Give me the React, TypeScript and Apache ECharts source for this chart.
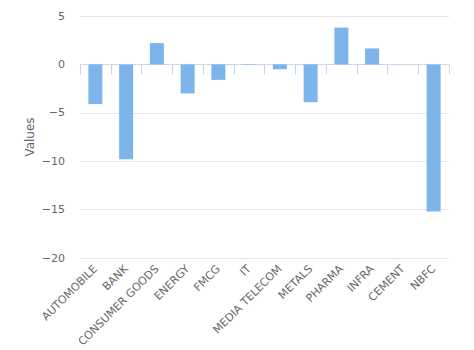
import React, { useEffect, useRef } from "react";
import * as echarts from "echarts";

const categories = ["AUTOMOBILE", "BANK", "CONSUMER GOODS", "ENERGY", "FMCG", "IT", "MEDIA TELECOM", "METALS", "PHARMA", "INFRA", "CEMENT", "NBFC"];
const values = [-4.1, -9.8, 2.2, -3.0, -1.6, -0.05, -0.5, -3.9, 3.8, 1.65, 0, -15.2];
const yTicks = { min: -20, max: 5, interval: 5 };
const yName = "Values";

export default function App() {
  const ref = useRef<HTMLDivElement>(null);
  useEffect(() => {
    const chart = echarts.init(ref.current!, undefined, { renderer: "svg" });
    const font = "DejaVu Sans";
    chart.setOption({
      animation: false,
      grid: { left: 80, right: 25, top: 16, bottom: 92 },
      xAxis: {
        type: "category",
        data: categories,
        axisLine: { lineStyle: { color: "#ccd6eb" } },
        axisTick: { show: true, length: 10, lineStyle: { color: "#ccd6eb" } },
        axisLabel: { rotate: 45, interval: 0, color: "#666666", fontSize: 11, fontFamily: font, margin: 9 },
      },
      yAxis: {
        type: "value",
        min: yTicks.min,
        max: yTicks.max,
        interval: yTicks.interval,
        name: yName,
        nameLocation: "middle",
        nameGap: 44,
        nameMoveOverlap: false,
        nameRotate: 90,
        nameTextStyle: { color: "#666666", fontSize: 12, fontFamily: font },
        axisLine: { show: false },
        axisTick: { show: false },
        axisLabel: {
          color: "#666666",
          fontSize: 11,
          fontFamily: font,
          margin: 15,
          formatter: (v: number) => String(v).replace("-", "\u2212"),
        },
        splitLine: { lineStyle: { color: "#e6e6e6" } },
      },
      series: [
        {
          type: "bar",
          data: values,
          barWidth: 14,
          itemStyle: { color: "#7cb5ec" },
        },
      ],
    });
    return () => chart.dispose();
  }, []);
  return <div ref={ref} style={{ width: 474, height: 350, position: "absolute", left: 0, top: 0 }} />;
}
